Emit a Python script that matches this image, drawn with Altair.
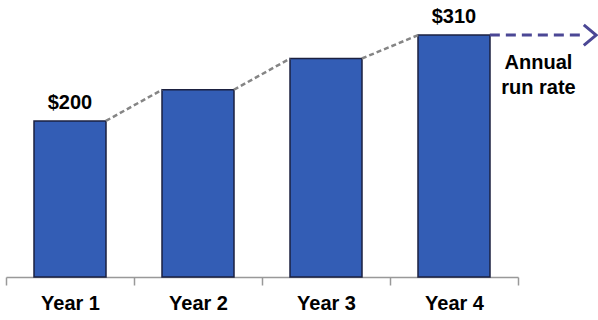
import altair as alt
import pandas as pd

years = ["Year 1", "Year 2", "Year 3", "Year 4"]
revenue = [200, 240, 280, 310]
value_labels = ["$200", "", "", "$310"]

# connector segments between bar tops (in band units: bar i spans i+0.22 .. i+0.78)
seg_id = [0, 0, 1, 1, 2, 2]
seg_pos = [0.78, 1.22, 1.78, 2.22, 2.78, 3.22]
seg_val = [200, 240, 240, 280, 280, 310]

# run-rate arrow
arrow_pos = [3.78, 4.52]
arrow_val = [310, 310]
arrow_head_pos = [4.61]
note_lines = ["Annual", "run rate"]
note_pos = [4.16, 4.16]
note_val = [274, 242]

bars_df = pd.DataFrame({"year": years, "revenue": revenue, "label": value_labels})
seg_df = pd.DataFrame({"seg": seg_id, "pos": seg_pos, "val": seg_val})
arrow_df = pd.DataFrame({"pos": arrow_pos, "val": arrow_val})
head_df = pd.DataFrame({"pos": arrow_head_pos, "val": [310]})
note_df = pd.DataFrame({"pos": note_pos, "val": note_val, "text": note_lines})

FONT = "Liberation Sans"
FS = 20
yscale = alt.Scale(domain=[0, 355], nice=False)
qx = alt.Scale(domain=[0, 4], nice=False, zero=False)
bandscale = alt.Scale(paddingInner=0, paddingOuter=0)

xband = alt.X(
    "year:N",
    sort=years,
    scale=bandscale,
    axis=alt.Axis(
        title=None, labelAngle=0, tickBand="extent", ticks=True,
        labelFont=FONT, labelFontSize=FS, labelFontWeight="bold", labelColor="#000000",
        labelPadding=8, tickSize=8, tickColor="#999999", domainColor="#999999",
        domainWidth=1.5, tickWidth=1.5, grid=False,
    ),
)

bars = alt.Chart(bars_df).mark_bar(
    color="#335db5", stroke="#1b2040", strokeWidth=1.5,
    width=alt.RelativeBandSize(0.5625),
).encode(
    x=xband,
    y=alt.Y("revenue:Q", scale=yscale, axis=None),
)

labels = alt.Chart(bars_df).mark_text(
    font=FONT, fontSize=FS, fontWeight="bold", color="#000000", baseline="bottom", dy=-8
).encode(
    x=alt.X("year:N", sort=years, scale=bandscale, axis=None),
    y=alt.Y("revenue:Q", scale=yscale, axis=None),
    text="label:N",
)

segs = alt.Chart(seg_df).mark_line(
    color="#858585", strokeWidth=2.5, strokeDash=[5, 3]
).encode(
    x=alt.X("pos:Q", scale=qx, axis=None),
    y=alt.Y("val:Q", scale=yscale, axis=None),
    detail="seg:N",
)

arrow = alt.Chart(arrow_df).mark_line(
    color="#4b4795", strokeWidth=3, strokeDash=[10, 6]
).encode(
    x=alt.X("pos:Q", scale=qx, axis=None),
    y=alt.Y("val:Q", scale=yscale, axis=None),
)

head = alt.Chart(head_df).mark_point(
    shape="M-1.2,-1L0,0L-1.2,1", filled=False, color="#4b4795", strokeWidth=3, size=420,
    opacity=1
).encode(
    x=alt.X("pos:Q", scale=qx, axis=None),
    y=alt.Y("val:Q", scale=yscale, axis=None),
)

note = alt.Chart(note_df).mark_text(
    font=FONT, fontSize=FS, fontWeight="bold", color="#000000", align="center",
    baseline="middle"
).encode(
    x=alt.X("pos:Q", scale=qx, axis=None),
    y=alt.Y("val:Q", scale=yscale, axis=None),
    text="text:N",
)

chart = alt.layer(bars, labels, segs, arrow, head, note).resolve_scale(
    x="independent"
).properties(
    width=512,
    height=277,
    background="#ffffff",
    autosize=alt.AutoSizeParams(type="none"),
    padding={"left": 6, "top": 0, "right": 80, "bottom": 43},
).configure_view(stroke=None)

chart.save("out.html", embed_options={"renderer": "svg", "actions": False})
